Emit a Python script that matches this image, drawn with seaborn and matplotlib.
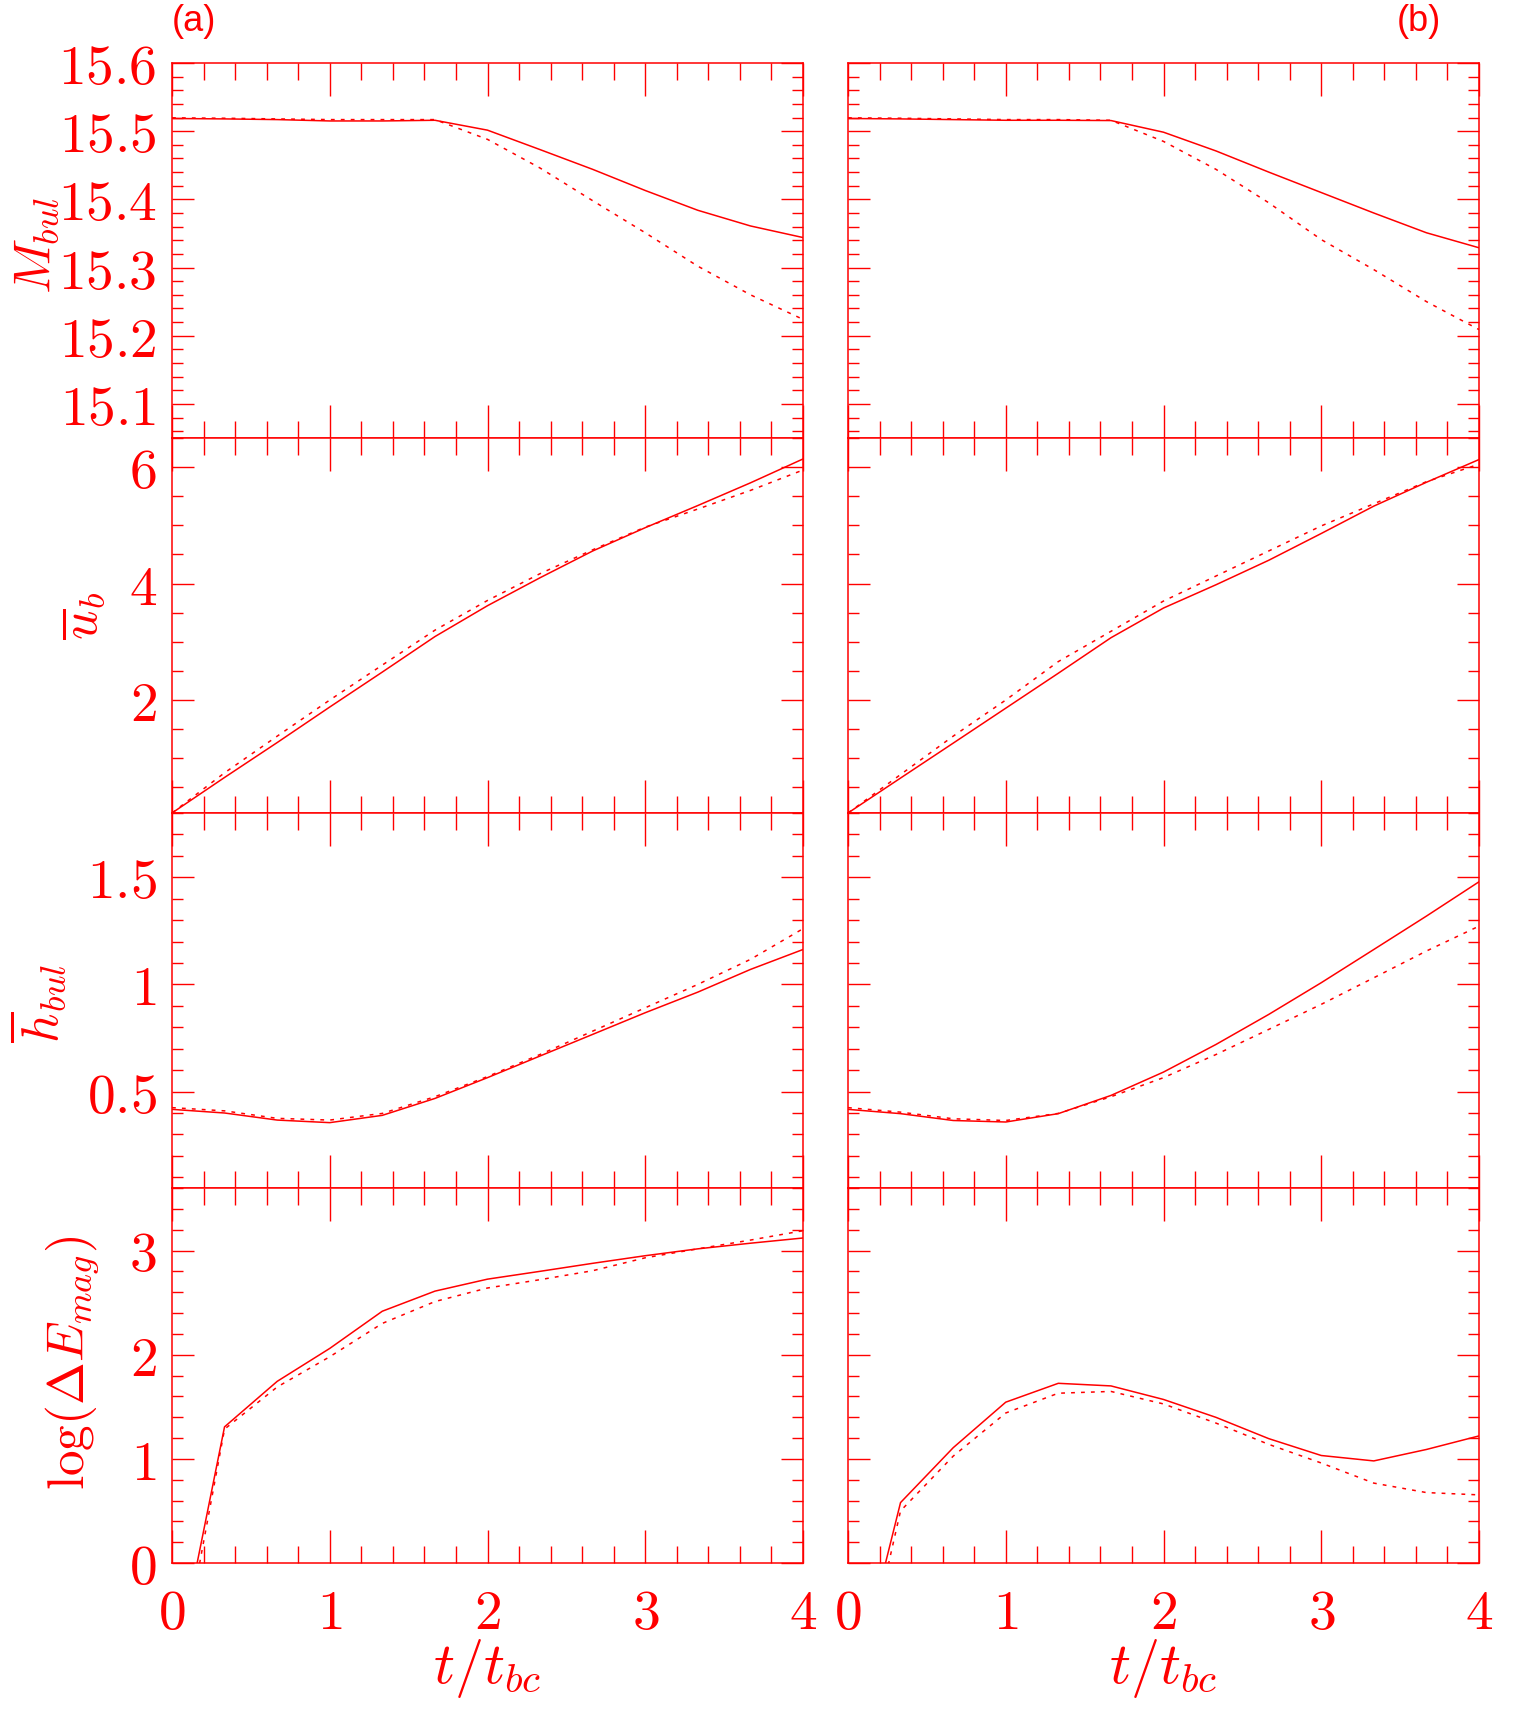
import matplotlib
matplotlib.use('Agg')
import matplotlib.pyplot as plt
from matplotlib.ticker import FixedLocator, MultipleLocator, FuncFormatter
import seaborn as sns
import pandas as pd

# ---------------------------------------------------------------------------
# data (t / t_bc on x)
# ---------------------------------------------------------------------------
t = [0, 0.333, 0.667, 1, 1.333, 1.667, 2, 2.333, 2.667, 3, 3.333, 3.667, 4]

# row 1: M_bul
mbul_a_solid = [15.5186, 15.518, 15.517, 15.515, 15.515, 15.516, 15.5015, 15.473, 15.444, 15.413, 15.384, 15.361, 15.344]
mbul_a_dash = [15.5196, 15.519, 15.518, 15.517, 15.517, 15.517, 15.488, 15.446, 15.398, 15.351, 15.302, 15.26, 15.224]
mbul_b_solid = [15.5186, 15.518, 15.517, 15.516, 15.516, 15.5156, 15.4985, 15.471, 15.44, 15.41, 15.38, 15.351, 15.329]
mbul_b_dash = [15.5196, 15.519, 15.518, 15.517, 15.517, 15.516, 15.485, 15.444, 15.395, 15.341, 15.297, 15.25, 15.209]

# row 2: u_b
ub_a_solid = [0.06, 0.67, 1.27, 1.88, 2.48, 3.09, 3.62, 4.10, 4.56, 4.96, 5.34, 5.73, 6.14]
ub_a_dash = [0.06, 0.75, 1.38, 2.0, 2.6, 3.2, 3.71, 4.17, 4.58, 4.97, 5.28, 5.60, 5.95]
ub_b_solid = [0.06, 0.66, 1.26, 1.86, 2.46, 3.07, 3.58, 3.98, 4.40, 4.86, 5.33, 5.74, 6.13]
ub_b_dash = [0.06, 0.72, 1.38, 2.0, 2.66, 3.18, 3.70, 4.13, 4.56, 4.99, 5.37, 5.75, 6.05]

# row 3: h_bul
hbul_a_solid = [0.417, 0.40, 0.367, 0.355, 0.389, 0.468, 0.565, 0.666, 0.767, 0.868, 0.964, 1.07, 1.163]
hbul_a_dash = [0.425, 0.41, 0.375, 0.367, 0.398, 0.476, 0.57, 0.673, 0.782, 0.891, 1.0, 1.117, 1.26]
hbul_b_solid = [0.417, 0.397, 0.365, 0.358, 0.397, 0.482, 0.591, 0.72, 0.86, 1.008, 1.163, 1.319, 1.479]
hbul_b_dash = [0.425, 0.404, 0.373, 0.365, 0.398, 0.476, 0.565, 0.673, 0.79, 0.907, 1.031, 1.156, 1.272]

# row 4: log(dE_mag)  (first point lies below the axis)
emag_a_solid = [-1.2, 1.307, 1.744, 2.06, 2.417, 2.61, 2.725, 2.80, 2.877, 2.95, 3.016, 3.07, 3.12]
emag_a_dash = [-1.43, 1.285, 1.69, 1.98, 2.30, 2.51, 2.64, 2.72, 2.806, 2.93, 3.016, 3.10, 3.19]
emag_b_solid = [-1.45, 0.58, 1.107, 1.544, 1.725, 1.70, 1.57, 1.398, 1.194, 1.032, 0.98, 1.09, 1.22]
emag_b_dash = [-1.72, 0.50, 1.026, 1.44, 1.63, 1.647, 1.527, 1.343, 1.139, 0.96, 0.767, 0.676, 0.654]

row_labels = [r'$M_{bul}$', r'$\overline{u}_b$', r'$\overline{h}_{bul}$', r'$\log(\Delta E_{mag})$']
row_ylims = [(15.05, 15.6), (0.06, 6.5), (0.05, 1.8), (0.0, 3.6)]
row_yticks = [[15.1, 15.2, 15.3, 15.4, 15.5, 15.6], [2, 4, 6], [0.5, 1.0, 1.5], [0, 1, 2, 3]]
row_yminor = [0.02, 0.5, 0.1, 0.2]
x_ticks = [0, 1, 2, 3, 4]
panel_tags = ['(a)', '(b)']

curves = [
    [(mbul_a_solid, mbul_a_dash), (mbul_b_solid, mbul_b_dash)],
    [(ub_a_solid, ub_a_dash), (ub_b_solid, ub_b_dash)],
    [(hbul_a_solid, hbul_a_dash), (hbul_b_solid, hbul_b_dash)],
    [(emag_a_solid, emag_a_dash), (emag_b_solid, emag_b_dash)],
]

# ---------------------------------------------------------------------------
# style
# ---------------------------------------------------------------------------
RED = '#ff0000'
plt.rcParams['font.family'] = 'DejaVu Sans'
plt.rcParams['mathtext.fontset'] = 'cm'
plt.rcParams['axes.edgecolor'] = RED
plt.rcParams['axes.linewidth'] = 1.1
plt.rcParams['xtick.color'] = RED
plt.rcParams['ytick.color'] = RED

W, H = 1513, 1709
fig = plt.figure(figsize=(W / 100, H / 100), dpi=100)

col_left = [172 / W, 848 / W]
col_w = 631 / W
row_top = 63
row_h = 375

label_pos = [(-0.214, 0.515), (-0.143, 0.525), (-0.213, 0.493), (-0.157, 0.533)]
fmt = FuncFormatter(lambda v, p: r'$%g$' % round(v, 3))

for r in range(4):
    for c in range(2):
        bottom = 1 - (row_top + (r + 1) * row_h) / H
        ax = fig.add_axes([col_left[c], bottom, col_w, row_h / H])
        solid, dash = curves[r][c]
        df = pd.DataFrame({'t': t, 'solid': solid, 'dash': dash})
        sns.lineplot(data=df, x='t', y='solid', ax=ax, color=RED, lw=1.1)
        sns.lineplot(data=df, x='t', y='dash', ax=ax, color=RED, lw=1.1,
                     linestyle=(0, (2.5, 4)))

        ax.set_xlim(0, 4)
        ax.set_ylim(*row_ylims[r])
        ax.xaxis.set_major_locator(FixedLocator(x_ticks))
        ax.xaxis.set_minor_locator(MultipleLocator(0.2))
        ax.yaxis.set_major_locator(FixedLocator(row_yticks[r]))
        ax.yaxis.set_minor_locator(MultipleLocator(row_yminor[r]))
        ax.xaxis.set_major_formatter(fmt)
        ax.yaxis.set_major_formatter(fmt)

        ax.tick_params(axis='both', which='both', direction='in', top=True, right=True,
                       width=1.0, colors=RED, labelcolor=RED, labelsize=40)
        ax.tick_params(axis='x', which='major', length=24, pad=17)
        ax.tick_params(axis='x', which='minor', length=12)
        ax.tick_params(axis='y', which='major', length=16, pad=11)
        ax.tick_params(axis='y', which='minor', length=8)

        ax.set_xlabel('')
        ax.set_ylabel('')
        if c == 1:
            ax.tick_params(axis='y', labelleft=False)
        if r < 3:
            ax.tick_params(axis='x', labelbottom=False)
        else:
            ax.text(0.5, -0.28, r'$t/t_{bc}$', transform=ax.transAxes, ha='center',
                    va='center', fontsize=42, color=RED)
        if c == 0:
            lx, ly = label_pos[r]
            ax.text(lx, ly, row_labels[r], transform=ax.transAxes, rotation=90,
                    ha='center', va='center', fontsize=37, color=RED)
        if r == 0:
            if c == 0:
                ax.text(0.0, 1.11, panel_tags[0], transform=ax.transAxes, ha='left',
                        va='center', fontsize=26, color=RED, family='Liberation Sans')
            else:
                ax.text(0.94, 1.11, panel_tags[1], transform=ax.transAxes, ha='right',
                        va='center', fontsize=26, color=RED, family='Liberation Sans')
        for s in ax.spines.values():
            s.set_color(RED)

fig.savefig('out.png', dpi=100, facecolor='white')
